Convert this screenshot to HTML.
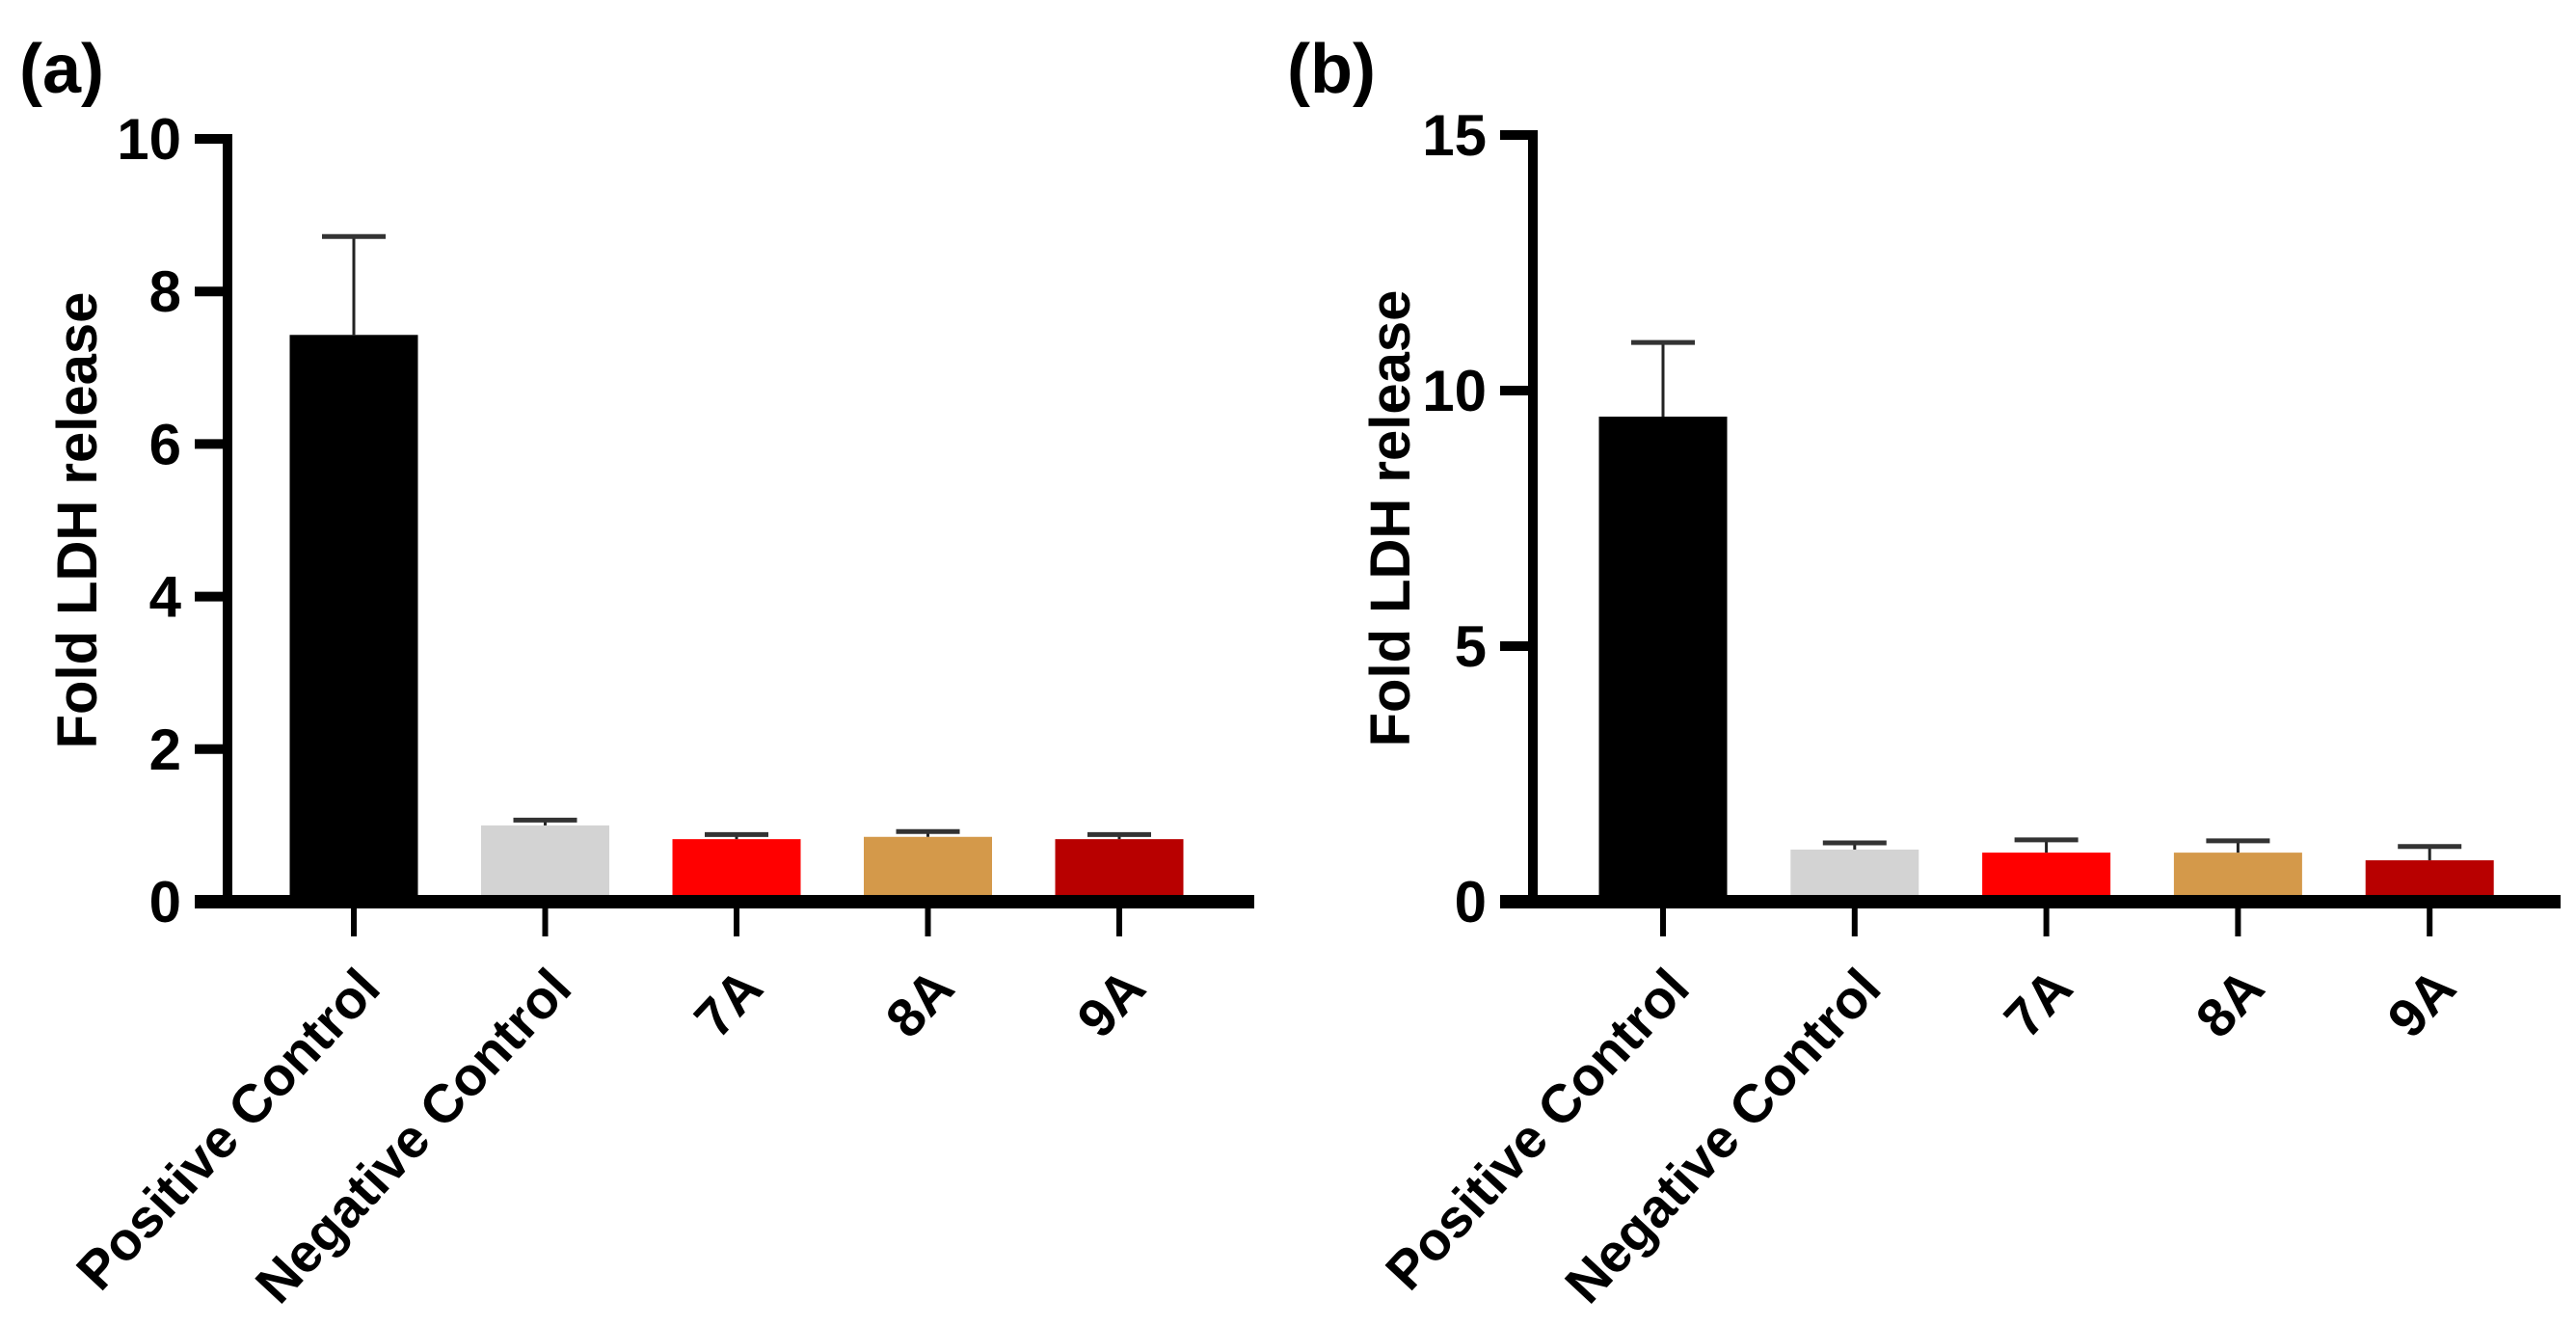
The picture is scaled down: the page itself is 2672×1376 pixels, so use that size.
<!DOCTYPE html>
<html><head><meta charset="utf-8"><style>
html,body{margin:0;padding:0;background:#fff;}
svg{display:block;}
text{font-family:"Liberation Sans Narrow","Liberation Sans",sans-serif;font-weight:bold;fill:#000;}
</style></head><body>
<svg id="fig" width="2672" height="1376" viewBox="0 0 2672 1376" xmlns="http://www.w3.org/2000/svg"></svg>
<script>
const categories = ["Positive Control","Negative Control","7A","8A","9A"];
const colors = ["#000000","#d3d3d3","#ff0000","#d4994a","#b80000"];
const valuesA = [7.43, 1.0, 0.82, 0.85, 0.82];
const errTopA = [8.72, 1.07, 0.88, 0.92, 0.88];
const ticksA = [0, 2, 4, 6, 8, 10];
const valuesB = [9.49, 1.02, 0.96, 0.96, 0.81];
const errTopB = [10.94, 1.15, 1.21, 1.19, 1.08];
const ticksB = [0, 5, 10, 15];

const NS = "http://www.w3.org/2000/svg";
const svg = document.getElementById("fig");
function mk(tag, attrs, parent) {
  const e = document.createElementNS(NS, tag);
  for (const k in attrs) e.setAttribute(k, attrs[k]);
  (parent || svg).appendChild(e);
  return e;
}

function panel(cfg) {
  const g = mk("g", {});
  
  
  const y = v => cfg.y0 - (v - 0) / (cfg.max) * (cfg.y0 - cfg.yTop);
  const x = i => cfg.firstCenter + i * cfg.step;

  // panel letter
  const lt = mk("text", {x: cfg.letterX, y: 96, "font-size": 72, "font-family": "Liberation Sans, sans-serif"}, g);
  lt.textContent = cfg.letter;
  
  

  // y axis title
  const yt = mk("text", {x: 0, y: 0, "font-size": 58, "text-anchor": "middle", "font-family": "Liberation Sans, sans-serif",
    transform: `translate(${cfg.titleX},${(cfg.y0 + cfg.yTop) / 2 + 0}) rotate(-90)`}, g);
  yt.textContent = "Fold LDH release";
  
  

  // bars
  categories.forEach((c, i) => {
    const cx = x(i);
    const top = y(cfg.values[i]);
    const b = mk("rect", {x: cx - cfg.bw / 2, y: top, width: cfg.bw, height: cfg.y0 - top, fill: colors[i]}, g);
    
    
    const et = y(cfg.errTop[i]);
    const e1 = mk("line", {x1: cx, x2: cx, y1: top, y2: et, stroke: "#222", "stroke-width": 3}, g);
    
    
    const e2 = mk("line", {x1: cx - 33, x2: cx + 33, y1: et, y2: et, stroke: "#333", "stroke-width": 5}, g);
    
    
  });

  // y axis
  const ya = mk("line", {x1: cfg.axX, x2: cfg.axX, y1: y(cfg.max) - 5, y2: cfg.y0 + 5, stroke: "#000", "stroke-width": 10}, g);
  
  
  cfg.ticks.forEach(t => {
    const ty = y(t);
    const tl = mk("line", {x1: cfg.axX - 34, x2: cfg.axX, y1: ty, y2: ty, stroke: "#000", "stroke-width": 10}, g);
    
    
    const tx = mk("text", {x: cfg.axX - 48, y: ty + 21, "font-size": 60, "text-anchor": "end"}, g);
    tx.textContent = t;
    
    
  });

  // x axis
  const xa = mk("line", {x1: cfg.axX - 34, x2: cfg.xEnd, y1: cfg.y0, y2: cfg.y0, stroke: "#000", "stroke-width": 14}, g);
  
  
  categories.forEach((c, i) => {
    const cx = x(i);
    const tk = mk("line", {x1: cx, x2: cx, y1: cfg.y0, y2: cfg.y0 + 36, stroke: "#000", "stroke-width": 6}, g);
    
    
    const lb = mk("text", {x: 0, y: 0, "font-size": 56, "text-anchor": "end", "font-family": "Liberation Sans, sans-serif",
      transform: `translate(${cx + 30},${cfg.y0 + 92}) rotate(-47)`}, g);
    lb.textContent = c;
    
    
  });
}

panel({name: "panel-a", letter: "(a)", letterX: 20, titleX: 100, axX: 236, y0: 935, yTop: 144, max: 10,
  ticks: ticksA, values: valuesA, errTop: errTopA, firstCenter: 367, step: 198.5, bw: 133, xEnd: 1301});
panel({name: "panel-b", letter: "(b)", letterX: 1335, titleX: 1462, axX: 1590, y0: 935, yTop: 140, max: 15,
  ticks: ticksB, values: valuesB, errTop: errTopB, firstCenter: 1725, step: 198.8, bw: 133, xEnd: 2656});
</script>
</body></html>
